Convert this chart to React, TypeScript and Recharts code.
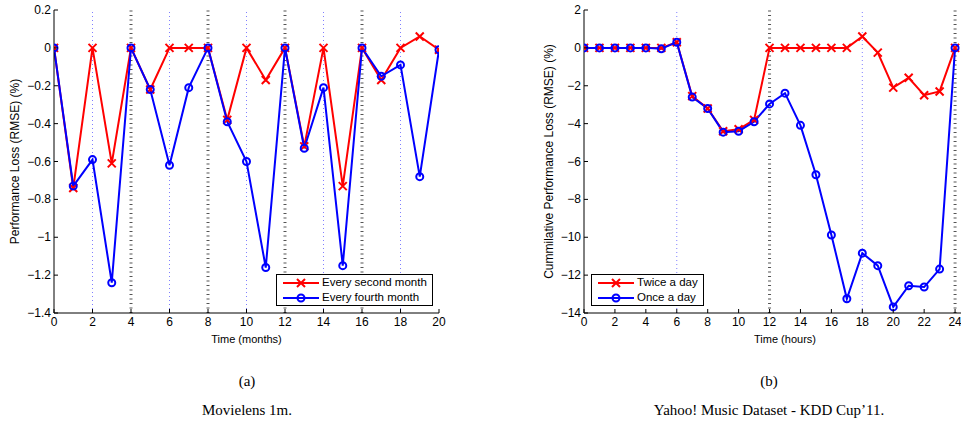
import { Legend, Line, LineChart, ReferenceLine, XAxis, YAxis } from "recharts";

// Movielens 1m: loss per month for two retraining schedules
const months = [0, 1, 2, 3, 4, 5, 6, 7, 8, 9, 10, 11, 12, 13, 14, 15, 16, 17, 18, 19, 20];
const everySecondMonth = [
  0, -0.74, 0, -0.61, 0, -0.22, 0, 0, 0, -0.38, 0, -0.17, 0, -0.52, 0, -0.73, 0, -0.17, 0, 0.06, -0.01,
];
const everyFourthMonth = [
  0, -0.73, -0.59, -1.24, 0, -0.22, -0.62, -0.21, 0, -0.39, -0.6, -1.16, 0, -0.53, -0.21, -1.15, 0, -0.15,
  -0.09, -0.68, -0.01,
];
const monthTicks = [0, 2, 4, 6, 8, 10, 12, 14, 16, 18, 20];
const lossTicks = [0.2, 0, -0.2, -0.4, -0.6, -0.8, -1, -1.2, -1.4];
const monthDotted = [2, 6, 10, 14, 18];
const monthDashed = [4, 8, 12, 16];

// Yahoo! Music: cumulative loss per hour
const hours = [0, 1, 2, 3, 4, 5, 6, 7, 8, 9, 10, 11, 12, 13, 14, 15, 16, 17, 18, 19, 20, 21, 22, 23, 24];
const twiceADay = [
  0, 0, 0, 0, 0, 0, 0.3, -2.55, -3.2, -4.4, -4.3, -3.8, 0, 0, 0, 0, 0, 0, 0.6, -0.25, -2.1, -1.58, -2.5, -2.3, 0,
];
const onceADay = [
  0, 0, 0, 0, 0, -0.05, 0.3, -2.6, -3.2, -4.45, -4.4, -3.9, -2.96, -2.39, -4.09, -6.7, -9.88, -13.25, -10.84,
  -11.5, -13.68, -12.56, -12.63, -11.68, 0,
];
const hourTicks = [0, 2, 4, 6, 8, 10, 12, 14, 16, 18, 20, 22, 24];
const cumulativeTicks = [2, 0, -2, -4, -6, -8, -10, -12, -14];
const hourDotted = [6, 18];
const hourDashed = [12, 24];

const FONT = '"Liberation Sans", Arial, Helvetica, sans-serif';
const SERIF = '"Liberation Serif", "Times New Roman", Times, serif';
const RED = "#ff0000";
const BLUE = "#0000ff";

const fmt = (v: number) => String(v).replace("-", "\u2212");

function BottomTick({ x, y, payload }: any) {
  return (
    <g>
      <line x1={x} y1={y} x2={x} y2={y - 4} stroke="#000" />
      <text x={x} y={y + 13} textAnchor="middle" fontSize={12} fontFamily={FONT} fill="#000">
        {fmt(payload.value)}
      </text>
    </g>
  );
}

function LeftTick({ x, y, payload }: any) {
  return (
    <g>
      <line x1={x} y1={y} x2={x + 4} y2={y} stroke="#000" />
      <text x={x - 3} y={y + 4} textAnchor="end" fontSize={12} fontFamily={FONT} fill="#000">
        {fmt(payload.value)}
      </text>
    </g>
  );
}

function TopTick({ x, y }: any) {
  return <line x1={x} y1={y} x2={x} y2={y + 4} stroke="#000" />;
}

function RightTick({ x, y }: any) {
  return <line x1={x} y1={y} x2={x - 4} y2={y} stroke="#000" />;
}

function CrossDot({ cx, cy }: any) {
  if (cx == null || cy == null) return null;
  const s = 4;
  return (
    <path
      d={`M${cx - s},${cy - s}L${cx + s},${cy + s}M${cx - s},${cy + s}L${cx + s},${cy - s}`}
      stroke={RED}
      strokeWidth={2}
      fill="none"
    />
  );
}

function CircleDot({ cx, cy }: any) {
  if (cx == null || cy == null) return null;
  return <circle cx={cx} cy={cy} r={3.5} stroke={BLUE} strokeWidth={2} fill="none" />;
}

function XTitle({ viewBox, value }: any) {
  const cx = viewBox.x + viewBox.width / 2;
  return (
    <text x={cx} y={viewBox.y + 30} textAnchor="middle" fontSize={11} fontFamily={FONT} fill="#000">
      {value}
    </text>
  );
}

function YTitle({ viewBox, value, dx }: any) {
  const cx = viewBox.x + dx;
  const cy = viewBox.y + viewBox.height / 2;
  return (
    <text
      x={cx}
      y={cy + 4}
      transform={`rotate(-90 ${cx} ${cy})`}
      textAnchor="middle"
      fontSize={12}
      fontFamily={FONT}
      fill="#000"
    >
      {value}
    </text>
  );
}

type Series = { key: string; name: string; color: string; marker: "cross" | "circle" };

function LegendBox({ items }: { items: Series[] }) {
  return (
    <div
      style={{
        border: "1px solid #000",
        background: "#fff",
        padding: "0 5px 0 6px",
        fontFamily: FONT,
        fontSize: 11.5,
        lineHeight: "15px",
        whiteSpace: "nowrap",
      }}
    >
      {items.map((it) => (
        <div key={it.key} style={{ display: "flex", alignItems: "center", height: 15 }}>
          <svg width={36} height={12} style={{ display: "block" }}>
            <line x1={0} y1={6} x2={36} y2={6} stroke={it.color} strokeWidth={2} />
            {it.marker === "cross" ? <CrossDot cx={18} cy={6} /> : <CircleDot cx={18} cy={6} />}
          </svg>
          <span style={{ marginLeft: 3 }}>{it.name}</span>
        </div>
      ))}
    </div>
  );
}

type PanelProps = {
  data: Record<string, number>[];
  width: number;
  rightMargin: number;
  xDomain: [number, number];
  yDomain: [number, number];
  xTicks: number[];
  yTicks: number[];
  dotted: number[];
  dashed: number[];
  xTitle: string;
  yTitle: string;
  yTitleDx: number;
  series: Series[];
  legendLeft: number;
};

function Panel(p: PanelProps) {
  return (
    <LineChart
      width={p.width}
      height={350}
      data={p.data}
      margin={{ top: 10, right: p.rightMargin, bottom: 0, left: 0 }}
    >
      <XAxis
        dataKey="x"
        type="number"
        domain={p.xDomain}
        ticks={p.xTicks}
        interval={0}
        allowDataOverflow
        height={37}
        tickSize={0}
        tickMargin={0}
        tickLine={false}
        axisLine={{ stroke: "#000" }}
        tick={<BottomTick />}
        label={<XTitle value={p.xTitle} />}
      />
      <XAxis
        xAxisId="top"
        orientation="top"
        dataKey="x"
        type="number"
        domain={p.xDomain}
        ticks={p.xTicks}
        interval={0}
        allowDataOverflow
        height={0}
        tickSize={0}
        tickMargin={0}
        tickLine={false}
        axisLine={{ stroke: "#000" }}
        tick={<TopTick />}
      />
      <YAxis
        type="number"
        domain={p.yDomain}
        ticks={p.yTicks}
        interval={0}
        allowDataOverflow
        width={54}
        tickSize={0}
        tickMargin={0}
        tickLine={false}
        axisLine={{ stroke: "#000" }}
        tick={<LeftTick />}
        label={<YTitle value={p.yTitle} dx={p.yTitleDx} />}
      />
      <YAxis
        yAxisId="right"
        orientation="right"
        type="number"
        domain={p.yDomain}
        ticks={p.yTicks}
        interval={0}
        allowDataOverflow
        width={0}
        tickSize={0}
        tickMargin={0}
        tickLine={false}
        axisLine={{ stroke: "#000" }}
        tick={<RightTick />}
      />
      {p.dotted.map((v) => (
        <ReferenceLine key={`dot-${v}`} x={v} stroke="#8080ff" strokeDasharray="1 3" />
      ))}
      {p.dashed.map((v) => (
        <ReferenceLine key={`dash-${v}`} x={v} stroke="#555" strokeWidth={3} strokeDasharray="1 3.5" />
      ))}
      {p.series.map((s) => (
        <Line
          key={s.key}
          type="linear"
          dataKey={s.key}
          name={s.name}
          stroke={s.color}
          strokeWidth={2}
          dot={s.marker === "cross" ? <CrossDot /> : <CircleDot />}
          activeDot={false}
          isAnimationActive={false}
        />
      ))}
      {/* middle/center keeps the legend from reserving plot space */}
      <Legend
        layout="horizontal"
        verticalAlign="middle"
        align="center"
        content={() => <LegendBox items={p.series} />}
        wrapperStyle={{ left: p.legendLeft, top: 274, width: "auto", height: "auto", bottom: "auto" }}
      />
    </LineChart>
  );
}

const monthData = months.map((m, i) => ({ x: m, a: everySecondMonth[i], b: everyFourthMonth[i] }));
const hourData = hours.map((h, i) => ({ x: h, a: twiceADay[i], b: onceADay[i] }));

const caption: React.CSSProperties = {
  position: "absolute",
  textAlign: "center",
  fontFamily: SERIF,
  fontSize: 15,
  color: "#000",
  width: 300,
};

export default function App() {
  return (
    <div
      style={{
        position: "absolute",
        left: 0,
        top: 0,
        width: 961,
        height: 426,
        overflow: "hidden",
        background: "#fff",
      }}
    >
      <div style={{ position: "absolute", left: 0, top: 0 }}>
        <Panel
          data={monthData}
          width={450}
          rightMargin={11}
          xDomain={[0, 20]}
          yDomain={[-1.4, 0.2]}
          xTicks={monthTicks}
          yTicks={lossTicks}
          dotted={monthDotted}
          dashed={monthDashed}
          xTitle="Time (months)"
          yTitle="Performance Loss (RMSE) (%)"
          yTitleDx={15}
          series={[
            { key: "a", name: "Every second month", color: RED, marker: "cross" },
            { key: "b", name: "Every fourth month", color: BLUE, marker: "circle" },
          ]}
          legendLeft={276}
        />
      </div>
      <div style={{ position: "absolute", left: 530, top: 0 }}>
        <Panel
          data={hourData}
          width={460}
          rightMargin={4}
          xDomain={[0, 26]}
          yDomain={[-14, 2]}
          xTicks={hourTicks}
          yTicks={cumulativeTicks}
          dotted={hourDotted}
          dashed={hourDashed}
          xTitle="Time (hours)"
          yTitle="Cummilative Performance Loss (RMSE) (%)"
          yTitleDx={19}
          series={[
            { key: "a", name: "Twice a day", color: RED, marker: "cross" },
            { key: "b", name: "Once a day", color: BLUE, marker: "circle" },
          ]}
          legendLeft={61}
        />
      </div>
      <div style={{ ...caption, left: 97, top: 373 }}>(a)</div>
      <div style={{ ...caption, left: 97, top: 402 }}>Movielens 1m.</div>
      <div style={{ ...caption, left: 619, top: 373 }}>(b)</div>
      <div style={{ ...caption, left: 619, top: 402 }}>Yahoo! Music Dataset - KDD Cup’11.</div>
    </div>
  );
}
